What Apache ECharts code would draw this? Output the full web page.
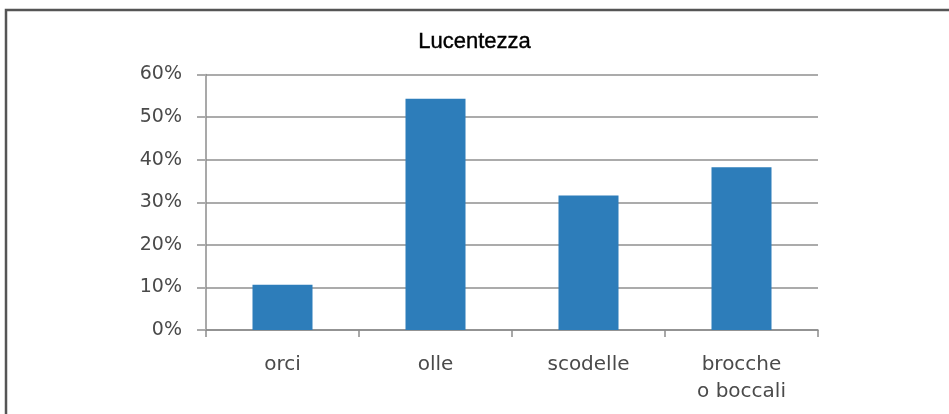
<!DOCTYPE html>
<html>
<head>
<meta charset="utf-8">
<script src="https://cdn.jsdelivr.net/npm/echarts@6/dist/echarts.min.js"></script>
<style>
  html, body { margin: 0; padding: 0; background: #fff; }
  #chart { width: 949px; height: 414px; }
</style>
</head>
<body>
<div id="chart"></div>
<script>
// Share of vessels showing lustre, by vessel type (percent)
const titleText = 'Lucentezza';
const categories = ['orci', 'olle', 'scodelle', 'brocche\no boccali'];
const values = [10.6, 54.3, 31.6, 38.2];
const yTicks = [0, 10, 20, 30, 40, 50, 60];

const axisFont = 'DejaVu Sans';
const chart = echarts.init(document.getElementById('chart'));

chart.setOption({
  backgroundColor: '#ffffff',
  animation: false,
  title: {
    text: titleText,
    left: 'center',
    top: 26,
    textStyle: {
      fontFamily: 'Liberation Sans, sans-serif',
      fontSize: 22,
      fontWeight: 'normal',
      color: '#000000',
      textBorderColor: '#000000',
      textBorderWidth: 0.4
    }
  },
  graphic: [{
    type: 'rect',
    shape: { x: 6, y: 10, width: 980, height: 440 },
    style: { fill: 'none', stroke: '#555555', lineWidth: 2.5 },
    silent: true
  }],
  grid: { left: 206, right: 131, top: 74.5, bottom: 84 },
  xAxis: {
    type: 'category',
    data: categories,
    axisLine: { lineStyle: { color: '#8c8c8c', width: 1.5 } },
    axisTick: { show: true, length: 7, lineStyle: { color: '#8c8c8c', width: 1.5 } },
    axisLabel: {
      margin: 21,
      fontFamily: axisFont,
      fontSize: 20,
      lineHeight: 27,
      color: '#4a4a4a'
    }
  },
  yAxis: {
    type: 'value',
    min: yTicks[0],
    max: yTicks[yTicks.length - 1],
    interval: yTicks[1] - yTicks[0],
    axisLine: { show: true, lineStyle: { color: '#8c8c8c', width: 1.5 } },
    axisTick: { show: true, length: 9, lineStyle: { color: '#ababab', width: 2 } },
    splitLine: { lineStyle: { color: '#ababab', width: 2 } },
    axisLabel: {
      margin: 24,
      formatter: '{value}%',
      fontFamily: axisFont,
      fontSize: 19,
      color: '#4a4a4a'
    }
  },
  series: [{
    type: 'bar',
    data: values,
    barWidth: 60,
    itemStyle: { color: '#2d7dba' }
  }]
});
</script>
</body>
</html>
